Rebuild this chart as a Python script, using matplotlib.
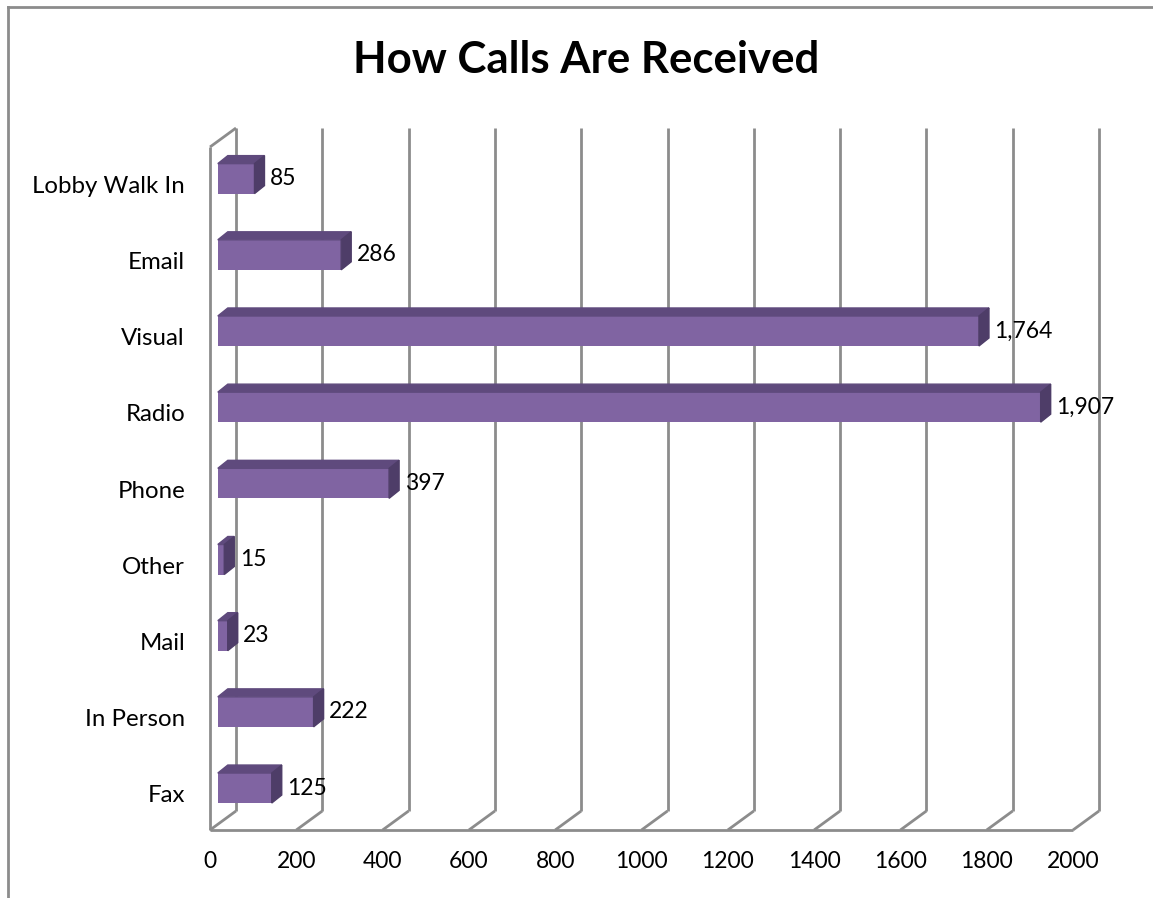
import numpy as np
import matplotlib
matplotlib.use("Agg")
import matplotlib.pyplot as plt
from matplotlib.patches import Polygon

categories = ["Fax", "In Person", "Mail", "Other", "Phone", "Radio",
              "Visual", "Email", "Lobby Walk In"]
calls = [125, 222, 23, 15, 397, 1907, 1764, 286, 85]
x_ticks = [0, 200, 400, 600, 800, 1000, 1200, 1400, 1600, 1800, 2000]

FONT = "Lato"
GRID = "#8c8c8c"
FRONT = "#8064a2"
TOP = "#5f4a7d"
SIDE = "#4e3d68"

W, H = 1153, 898
fig = plt.figure(figsize=(W / 100, H / 100), dpi=100)
ax = fig.add_axes([210 / W, 68 / H, 863 / W, 683 / H])

xmax = x_ticks[-1]
y0, y1 = -0.476, 8.49
ax.set_xlim(0, xmax)
ax.set_ylim(y0, y1)

# projection of the depth axis in data units
px_x = 863 / xmax
px_y = 683 / (y1 - y0)
DX, DY = 26 / px_x, 19 / px_y       # full depth of the floor
f = 0.3                              # bar front face depth
bdx, bdy = 10 / px_x, 8 / px_y       # bar thickness
bh = 30 / px_y

# walls and grid
lk = dict(color=GRID, lw=2, clip_on=False, zorder=1, solid_capstyle="butt")
for v in x_ticks:
    ax.plot([v + DX, v + DX], [y0 + DY, y1 + DY], **lk)
    ax.plot([v, v + DX], [y0, y0 + DY], **lk)
ax.plot([0, xmax], [y0, y0], **lk)
ax.plot([0, 0], [y0, y1], **lk)
ax.plot([0, DX], [y1, y1 + DY], **lk)

# bars
ypos = np.arange(len(categories))
left = f * DX
yc = ypos + f * DY
ax.barh(yc, calls, left=left, height=bh, color=FRONT, zorder=3)
for y, v in zip(yc, calls):
    xr = left + v
    yb, yt = y - bh / 2, y + bh / 2
    ax.add_patch(Polygon([(left, yt), (xr, yt), (xr + bdx, yt + bdy), (left + bdx, yt + bdy)],
                         closed=True, color=TOP, zorder=3, clip_on=False))
    ax.add_patch(Polygon([(xr, yb), (xr, yt), (xr + bdx, yt + bdy), (xr + bdx, yb + bdy)],
                         closed=True, color=SIDE, zorder=3, clip_on=False))
    ax.annotate(f"{v:,}", (xr + bdx, y), xytext=(4, 0), textcoords="offset points",
                ha="left", va="center", fontsize=16.5, family=FONT)

for s in ax.spines.values():
    s.set_visible(False)
ax.set_xticks(x_ticks)
ax.set_xticklabels([str(t) for t in x_ticks], fontsize=16.5, family=FONT)
ax.set_yticks(ypos)
ax.set_yticklabels(categories, fontsize=17.3, family=FONT)
ax.tick_params(axis="x", length=0, pad=15)
ax.tick_params(axis="y", length=0, pad=18)
ax.patch.set_alpha(0)

fig.text(586 / W, 1 - 60 / H, "How Calls Are Received", ha="center", va="center",
         fontsize=31.5, fontweight="bold", family=FONT)

# chart area border (top and left visible)
fig.add_artist(plt.Line2D([8 / W, 8 / W], [0, 1 - 7 / H], color=GRID, lw=2, transform=fig.transFigure))
fig.add_artist(plt.Line2D([8 / W, 1], [1 - 7 / H, 1 - 7 / H], color=GRID, lw=2, transform=fig.transFigure))

fig.savefig("out.png", dpi=100)
